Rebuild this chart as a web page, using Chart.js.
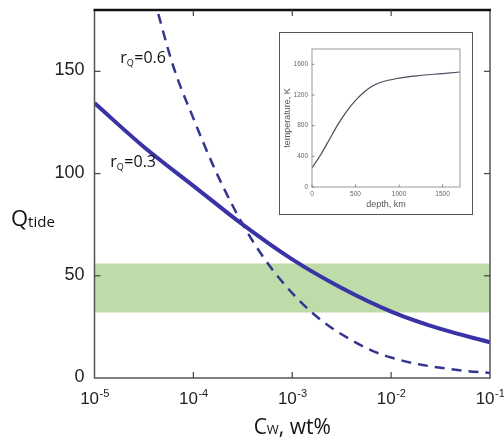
<!DOCTYPE html>
<html>
<head>
<meta charset="utf-8">
<script src="https://cdn.jsdelivr.net/npm/chart.js@4.4.1/dist/chart.umd.min.js"></script>
<style>
  body { margin: 0; background: #fff; }
  #wrap { position: relative; width: 504px; height: 438px; }
  #inset { position: absolute; left: 279px; top: 32px; width: 192px; height: 181px; border: 1px solid #555; background: #fff; }
</style>
</head>
<body>
<div id="wrap">
  <canvas id="mainChart" width="504" height="438"></canvas>
  <div id="inset"><canvas id="insetChart" width="192" height="181"></canvas></div>
</div>
<script>
// 主圖數據: log10(Cw) 與 Q_tide
const logCw03 = [-5, -4.5, -4, -3.5, -3, -2.5, -2, -1.5, -1];
const qTide03 = [134.5, 113, 94, 75, 58, 44, 32.5, 24, 17.5];
const logCw06 = [-4.4, -4.2, -4, -3.8, -3.6, -3.4, -3.2, -3, -2.8, -2.6, -2.4, -2.2, -2, -1.75, -1.5, -1.25, -1];
const qTide06 = [186, 152, 127, 104, 84, 67, 53, 41.5, 32, 24.5, 18.5, 13.5, 10, 7, 5, 3.5, 2.5];
const bandQ = [32, 56];
const xTicks = [1e-5, 1e-4, 1e-3, 1e-2, 1e-1];
const yTicks = [0, 50, 100, 150];

// 插圖數據: 溫度剖面
const depthKm = [0, 100, 200, 300, 400, 500, 600, 700, 800, 1000, 1200, 1500, 1700];
const tempK = [250, 420, 620, 820, 990, 1130, 1240, 1320, 1370, 1420, 1450, 1480, 1500];
const insetXTicks = [0, 500, 1000, 1500];
const insetYTicks = [0, 400, 800, 1200, 1600];

const toPts = (xs, ys) => xs.map((lx, i) => ({ x: Math.pow(10, lx), y: ys[i] }));

function line(ctx, x1, y1, x2, y2) {
    ctx.beginPath();
    ctx.moveTo(x1, y1);
    ctx.lineTo(x2, y2);
    ctx.stroke();
}

// 坐標框, 刻度與文字
const mainAxes = {
    id: 'mainAxes',
    afterDraw(chart) {
        const { ctx, chartArea: a, scales: { x, y } } = chart;
        ctx.save();

        ctx.strokeStyle = '#555';
        ctx.lineWidth = 1.5;
        ctx.beginPath();
        ctx.moveTo(a.left, a.top);
        ctx.lineTo(a.left, a.bottom);
        ctx.lineTo(a.right, a.bottom);
        ctx.lineTo(a.right, a.top);
        ctx.stroke();
        ctx.strokeStyle = '#111';
        ctx.lineWidth = 2.5;
        line(ctx, a.left - 1, a.top, a.right + 1, a.top);

        ctx.strokeStyle = '#444';
        ctx.lineWidth = 1.2;
        xTicks.slice(1, -1).forEach(v => {
            const px = x.getPixelForValue(v);
            line(ctx, px, a.bottom, px, a.bottom - 6);
            line(ctx, px, a.top, px, a.top + 6);
        });
        yTicks.slice(1).forEach(v => {
            const py = y.getPixelForValue(v);
            line(ctx, a.left, py, a.left + 6, py);
            line(ctx, a.right, py, a.right - 6, py);
        });

        // y 軸刻度
        ctx.fillStyle = '#222';
        ctx.font = '18px "Liberation Sans", Arial, sans-serif';
        ctx.textAlign = 'right';
        ctx.textBaseline = 'middle';
        yTicks.forEach(v => ctx.fillText(String(v), a.left - 10, y.getPixelForValue(v) - 1));

        // x 軸刻度 10^n
        ctx.textAlign = 'left';
        ctx.textBaseline = 'alphabetic';
        xTicks.forEach(v => {
            const e = String(Math.round(Math.log10(v)));
            ctx.font = '17px "Liberation Sans", Arial, sans-serif';
            const w1 = ctx.measureText('10').width;
            ctx.font = '11px "Liberation Sans", Arial, sans-serif';
            const w2 = ctx.measureText(e).width;
            const left = x.getPixelForValue(v) - (w1 + w2) / 2;
            ctx.font = '17px "Liberation Sans", Arial, sans-serif';
            ctx.fillText('10', left, a.bottom + 26);
            ctx.font = '11px "Liberation Sans", Arial, sans-serif';
            ctx.fillText(e, left + w1 + 0.5, a.bottom + 19);
        });

        // x 軸標題
        const big = '21px "Open Sans", sans-serif';
        const small = '13px "Open Sans", sans-serif';
        ctx.font = big;
        const wc = ctx.measureText('C').width;
        const wr = ctx.measureText(', wt%').width;
        ctx.font = small;
        const ww = ctx.measureText('W').width;
        let tx = (a.left + a.right) / 2 - (wc + ww + wr) / 2;
        const ty = 434;
        ctx.fillStyle = '#111';
        ctx.font = big;
        ctx.fillText('C', tx, ty);
        ctx.font = small;
        ctx.fillText('W', tx + wc, ty);
        ctx.font = big;
        ctx.fillText(', wt%', tx + wc + ww, ty);

        // y 軸標題
        ctx.font = '22px "Open Sans", sans-serif';
        ctx.fillText('Q', 11, 226);
        const wq = ctx.measureText('Q').width;
        ctx.font = '15px "Open Sans", sans-serif';
        ctx.fillText('tide', 11 + wq, 227);

        // 曲線標註
        const labels = [
            { text: '0.6', lx: -4.74, q: 154 },
            { text: '0.3', lx: -4.84, q: 103 }
        ];
        labels.forEach(l => {
            const px = x.getPixelForValue(Math.pow(10, l.lx));
            const py = y.getPixelForValue(l.q);
            ctx.font = '16px "Open Sans", sans-serif';
            ctx.fillText('r', px, py);
            const wr2 = ctx.measureText('r').width;
            ctx.font = '9px "Open Sans", sans-serif';
            ctx.fillText('Q', px + wr2, py + 3);
            const wq2 = ctx.measureText('Q').width;
            ctx.font = '16px "Open Sans", sans-serif';
            ctx.fillText('=' + l.text, px + wr2 + wq2 + 0.5, py);
        });
        ctx.restore();
    }
};

new Chart(document.getElementById('mainChart').getContext('2d'), {
    type: 'line',
    data: {
        datasets: [
            {
                label: 'rQ=0.3',
                data: toPts(logCw03, qTide03),
                borderColor: '#3a33a6',
                borderWidth: 4,
                pointRadius: 0,
                cubicInterpolationMode: 'monotone',
                fill: false
            },
            {
                label: 'rQ=0.6',
                data: toPts(logCw06, qTide06),
                borderColor: '#35358f',
                borderWidth: 2.5,
                borderDash: [10, 7],
                pointRadius: 0,
                cubicInterpolationMode: 'monotone',
                fill: false
            },
            {
                label: 'band',
                data: [{ x: xTicks[0], y: bandQ[1] }, { x: xTicks[xTicks.length - 1], y: bandQ[1] }],
                borderWidth: 0,
                pointRadius: 0,
                backgroundColor: '#bddca9',
                fill: { value: bandQ[0] }
            }
        ]
    },
    options: {
        responsive: false,
        animation: false,
        devicePixelRatio: 1,
        layout: { padding: { left: 94.5, right: 14, top: 10, bottom: 60 } },
        scales: {
            x: { type: 'logarithmic', min: 1e-5, max: 1e-1, display: false },
            y: { type: 'linear', min: 0, max: 180, display: false }
        },
        plugins: { legend: { display: false }, tooltip: { enabled: false } }
    },
    plugins: [mainAxes]
});

// 插圖坐標
const insetAxes = {
    id: 'insetAxes',
    afterDraw(chart) {
        const { ctx, chartArea: a, scales: { x, y } } = chart;
        ctx.save();
        ctx.strokeStyle = '#999';
        ctx.lineWidth = 1;
        ctx.strokeRect(a.left, a.top, a.right - a.left, a.bottom - a.top);
        ctx.strokeStyle = '#888';
        insetXTicks.forEach(v => {
            const px = x.getPixelForValue(v);
            line(ctx, px, a.bottom, px, a.bottom - 2.5);
        });
        insetYTicks.forEach(v => {
            const py = y.getPixelForValue(v);
            line(ctx, a.left, py, a.left + 2.5, py);
        });
        ctx.fillStyle = '#666';
        ctx.font = '6.5px "Liberation Sans", Arial, sans-serif';
        ctx.textAlign = 'right';
        ctx.textBaseline = 'middle';
        insetYTicks.forEach(v => ctx.fillText(String(v), a.left - 4, y.getPixelForValue(v)));
        ctx.textAlign = 'center';
        ctx.textBaseline = 'top';
        insetXTicks.forEach(v => ctx.fillText(String(v), x.getPixelForValue(v), a.bottom + 4));
        ctx.fillStyle = '#555';
        ctx.font = '9px "Liberation Sans", Arial, sans-serif';
        ctx.fillText('depth, km', (a.left + a.right) / 2, a.bottom + 13);
        ctx.translate(8, (a.top + a.bottom) / 2);
        ctx.rotate(-Math.PI / 2);
        ctx.textBaseline = 'middle';
        ctx.fillText('temperature, K', 0, 0);
        ctx.restore();
    }
};

new Chart(document.getElementById('insetChart').getContext('2d'), {
    type: 'line',
    data: {
        datasets: [{
            data: depthKm.map((d, i) => ({ x: d, y: tempK[i] })),
            borderColor: '#4a4a5e',
            borderWidth: 1.2,
            pointRadius: 0,
            cubicInterpolationMode: 'monotone',
            fill: false
        }]
    },
    options: {
        responsive: false,
        animation: false,
        devicePixelRatio: 1,
        layout: { padding: { left: 32, right: 12, top: 16, bottom: 27 } },
        scales: {
            x: { type: 'linear', min: 0, max: 1700, display: false },
            y: { type: 'linear', min: 0, max: 1800, display: false }
        },
        plugins: { legend: { display: false }, tooltip: { enabled: false } }
    },
    plugins: [insetAxes]
});
</script>
</body>
</html>
